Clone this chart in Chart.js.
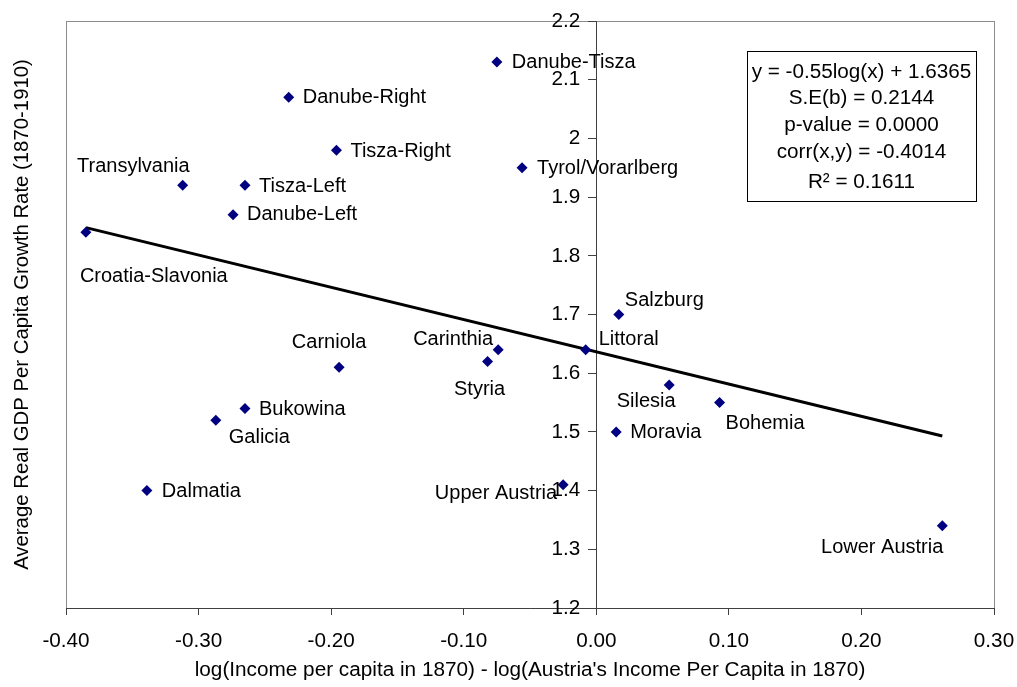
<!DOCTYPE html>
<html>
<head>
<meta charset="utf-8">
<script src="https://cdn.jsdelivr.net/npm/chart.js@4.4.0/dist/chart.umd.min.js"></script>
<style>
    html, body { margin: 0; padding: 0; background: #fff; }
</style>
</head>
<body>
<canvas id="myChart" width="1017" height="687"></canvas>
<script>
// regions and their values
const regions = ['Danube-Tisza', 'Danube-Right', 'Tisza-Right', 'Tyrol/Vorarlberg', 'Transylvania',
    'Tisza-Left', 'Danube-Left', 'Croatia-Slavonia', 'Salzburg', 'Littoral', 'Carinthia', 'Styria',
    'Carniola', 'Silesia', 'Bohemia', 'Bukowina', 'Galicia', 'Moravia', 'Upper Austria', 'Dalmatia',
    'Lower Austria'];
const incomeGap = [-0.075, -0.232, -0.196, -0.056, -0.312, -0.265, -0.274, -0.385, 0.017, -0.008,
    -0.074, -0.082, -0.194, 0.055, 0.093, -0.265, -0.287, 0.015, -0.025, -0.339, 0.261];
const growthRate = [2.13, 2.07, 1.98, 1.95, 1.92, 1.92, 1.87, 1.84, 1.70, 1.64, 1.64, 1.62, 1.61,
    1.58, 1.55, 1.54, 1.52, 1.50, 1.41, 1.40, 1.34];

const trendX = [-0.385, 0.261];
const trendY = [1.848, 1.493];

const xTicks = [-0.4, -0.3, -0.2, -0.1, 0, 0.1, 0.2, 0.3];
const yTicks = [1.2, 1.3, 1.4, 1.5, 1.6, 1.7, 1.8, 1.9, 2, 2.1, 2.2];
const yTickLabels = ['1.2', '1.3', '1.4', '1.5', '1.6', '1.7', '1.8', '1.9', '2', '2.1', '2.2'];

const statLines = ['y = -0.55log(x) + 1.6365', 'S.E(b) = 0.2144', 'p-value = 0.0000',
    'corr(x,y) = -0.4014', 'R\u00B2 = 0.1611'];

const FONT = "'Liberation Sans', Arial, sans-serif";
Chart.defaults.font.family = FONT;
Chart.defaults.font.size = 20.7;
Chart.defaults.color = '#000';

// where each name sits next to its diamond: [dx, dy, align]
const labelPlace = {
    'Danube-Tisza': [15, 0, 'left'],
    'Danube-Right': [14, 0, 'left'],
    'Tisza-Right': [14, 1, 'left'],
    'Tyrol/Vorarlberg': [15, 1, 'left'],
    'Transylvania': [7, -19, 'right'],
    'Tisza-Left': [14, 1, 'left'],
    'Danube-Left': [14, 0, 'left'],
    'Croatia-Slavonia': [-6, 44, 'left'],
    'Salzburg': [6, -14, 'left'],
    'Littoral': [13, -10, 'left'],
    'Carinthia': [-5, -10, 'right'],
    'Styria': [-8, 28, 'center'],
    'Carniola': [-10, -25, 'center'],
    'Silesia': [-23, 17, 'center'],
    'Bohemia': [6, 21, 'left'],
    'Bukowina': [14, 1, 'left'],
    'Galicia': [13, 17, 'left'],
    'Moravia': [14, 1, 'left'],
    'Upper Austria': [-6, 9, 'right'],
    'Dalmatia': [15, 1, 'left'],
    'Lower Austria': [1, 22, 'right']
};

const framePlugin = {
    id: 'frame',
    beforeDraw(chart) {
        const a = chart.chartArea;
        const ctx = chart.ctx;
        ctx.save();
        ctx.strokeStyle = '#8c8c8c';
        ctx.lineWidth = 1;
        ctx.strokeRect(a.left + 0.5, a.top + 0.5, a.right - a.left, a.bottom - a.top);
        ctx.restore();
    }
};

const namesPlugin = {
    id: 'names',
    afterDatasetsDraw(chart) {
        const ctx = chart.ctx;
        const meta = chart.getDatasetMeta(0);
        ctx.save();
        ctx.font = '20px ' + FONT;
        ctx.fillStyle = '#000';
        ctx.textBaseline = 'middle';
        meta.data.forEach(function (pt, i) {
            const p = labelPlace[regions[i]] || [12, 0, 'left'];
            ctx.textAlign = p[2];
            ctx.fillText(regions[i], pt.x + p[0], pt.y + p[1]);
        });
        ctx.restore();
    }
};

// y labels sit left of the axis that crosses at x = 0
const yLabelsPlugin = {
    id: 'yLabels',
    afterDraw(chart) {
        const ctx = chart.ctx;
        const ys = chart.scales.y;
        const x0 = chart.scales.x.getPixelForValue(0);
        ctx.save();
        ctx.font = '20.7px ' + FONT;
        ctx.fillStyle = '#000';
        ctx.textAlign = 'right';
        ctx.textBaseline = 'middle';
        yTicks.forEach(function (v, i) {
            ctx.fillText(yTickLabels[i], x0 - 16, ys.getPixelForValue(v));
        });
        ctx.restore();
    }
};

const statsPlugin = {
    id: 'stats',
    afterDraw(chart) {
        const a = chart.chartArea;
        const ctx = chart.ctx;
        const w = 229, h = 150;
        const left = a.right - 18 - w;
        const top = a.top + 30;
        ctx.save();
        ctx.fillStyle = '#fff';
        ctx.fillRect(left, top, w, h);
        ctx.strokeStyle = '#000';
        ctx.lineWidth = 1;
        ctx.strokeRect(left + 0.5, top + 0.5, w, h);
        ctx.fillStyle = '#000';
        ctx.font = '20.7px ' + FONT;
        ctx.textAlign = 'center';
        ctx.textBaseline = 'middle';
        const offs = [21, 47, 74, 101, 131];
        statLines.forEach(function (t, i) {
            ctx.fillText(t, left + w / 2, top + offs[i]);
        });
        ctx.restore();
    }
};

const myChart = new Chart('myChart', {
    type: 'scatter',
    data: {
        datasets: [{
            label: 'Regions',
            data: incomeGap.map((x, i) => ({ x: x, y: growthRate[i] })),
            pointStyle: 'rectRot',
            pointRadius: 5.5,
            pointHoverRadius: 5.5,
            backgroundColor: '#000080',
            borderColor: '#000080',
            borderWidth: 0
        },
        {
            label: 'Trend',
            data: trendX.map((x, i) => ({ x: x, y: trendY[i] })),
            showLine: true,
            borderColor: '#000',
            borderWidth: 3,
            pointRadius: 0
        }]
    },
    options: {
        responsive: false,
        animation: false,
        layout: { padding: { top: 21, right: 23, left: 0, bottom: 0 } },
        plugins: {
            legend: { display: false },
            tooltip: { enabled: false }
        },
        scales: {
            x: {
                type: 'linear',
                position: 'bottom',
                min: -0.4,
                max: 0.3,
                afterBuildTicks: s => { s.ticks = xTicks.map(v => ({ value: v })); },
                afterFit: s => { s.height = 79; s.paddingLeft = 0; s.paddingRight = 0; },
                ticks: {
                    callback: v => v.toFixed(2),
                    padding: 14,
                    maxRotation: 0
                },
                grid: { drawOnChartArea: false, tickLength: 7, color: '#404040' },
                border: { color: '#404040' },
                title: {
                    display: true,
                    text: "log(Income per capita in 1870) - log(Austria's Income Per Capita in 1870)",
                    font: { size: 20.76 },
                    padding: { top: 0, bottom: 4 }
                }
            },
            y: {
                type: 'linear',
                position: { x: 0 },
                min: 1.2,
                max: 2.2,
                afterBuildTicks: s => { s.ticks = yTicks.map(v => ({ value: v })); },
                ticks: { display: false },
                grid: { drawOnChartArea: false, drawTicks: true, tickLength: 8, color: '#404040' },
                border: { color: '#404040' }
            },
            yTitle: {
                type: 'linear',
                axis: 'y',
                position: 'left',
                min: 1.2,
                max: 2.2,
                afterFit: s => { s.width = 66; },
                ticks: { display: false },
                grid: { display: false },
                border: { display: false },
                title: {
                    display: true,
                    text: 'Average Real GDP Per Capita Growth Rate (1870-1910)',
                    font: { size: 20.35 },
                    padding: { top: 10, bottom: 0 }
                }
            }
        }
    },
    plugins: [framePlugin, namesPlugin, yLabelsPlugin, statsPlugin]
});
</script>
</body>
</html>
